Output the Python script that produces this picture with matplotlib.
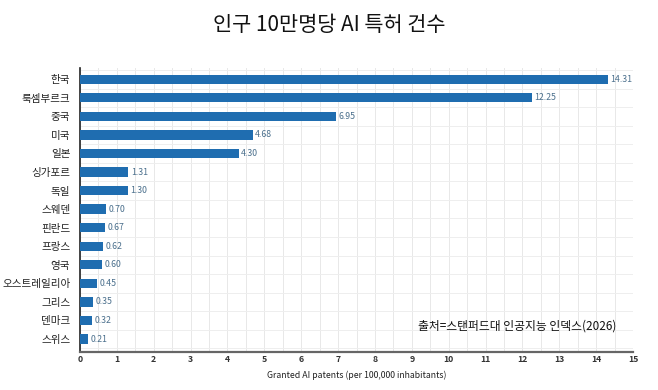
import matplotlib.pyplot as plt

plt.rcParams['font.family'] = ['Noto Sans CJK KR', 'DejaVu Sans']

countries = ['한국', '룩셈부르크', '중국', '미국', '일본', '싱가포르', '독일', '스웨덴',
             '핀란드', '프랑스', '영국', '오스트레일리아', '그리스', '덴마크', '스위스']
values = [14.31, 12.25, 6.95, 4.68, 4.30, 1.31, 1.30, 0.70,
          0.67, 0.62, 0.60, 0.45, 0.35, 0.32, 0.21]

fig = plt.figure(figsize=(6.58, 3.9), dpi=100)
ax = fig.add_axes([0.1216, 0.0974, 0.8404, 0.728])

ypos = range(len(countries))
ax.barh(ypos, values, height=0.5, color='#1f6db0', zorder=3)
for y, v in zip(ypos, values):
    ax.text(v + 0.07, y, f'{v:.2f}', va='center', ha='left', fontsize=6.3,
            color='#4a6f8c', zorder=4)

ax.set_yticks(list(ypos))
ax.set_yticklabels(countries, fontsize=7.6, color='#222222')
ax.set_ylim(len(countries) - 0.3, -0.6)
ax.set_xlim(0, 15)
ax.set_xticks(range(16))
ax.tick_params(axis='x', labelsize=6.3, length=0, pad=2, labelcolor='#333333')
for lab in ax.get_xticklabels():
    lab.set_fontweight('bold')
ax.tick_params(axis='y', length=0, pad=7)

ax.set_xticks([x + 0.5 for x in range(15)], minor=True)
ax.grid(True, axis='x', which='both', color='#e8e8e8', linewidth=0.7, zorder=0)
ax.set_yticks([y + 0.5 for y in range(-1, len(countries))], minor=True)
ax.grid(True, axis='y', which='minor', color='#eeeeee', linewidth=0.7, zorder=0)
ax.tick_params(which='minor', length=0)

for s in ['top', 'right']:
    ax.spines[s].set_visible(False)
ax.spines['left'].set_color('#222222')
ax.spines['left'].set_linewidth(1.2)
ax.spines['bottom'].set_color('#666666')
ax.spines['bottom'].set_linewidth(1.6)

ax.set_xlabel('Granted AI patents (per 100,000 inhabitants)', fontsize=6.3,
              color='#222222', labelpad=5)

fig.text(0.5, 0.935, '인구 10만명당 AI 특허 건수', ha='center', va='center',
         fontsize=15, color='#111111')
ax.text(0.97, 0.09, '출처=스탠퍼드대 인공지능 인덱스(2026)', transform=ax.transAxes,
        ha='right', va='center', fontsize=8.5, color='#111111', zorder=5)

fig.savefig('out.png', dpi=100, facecolor='white')
